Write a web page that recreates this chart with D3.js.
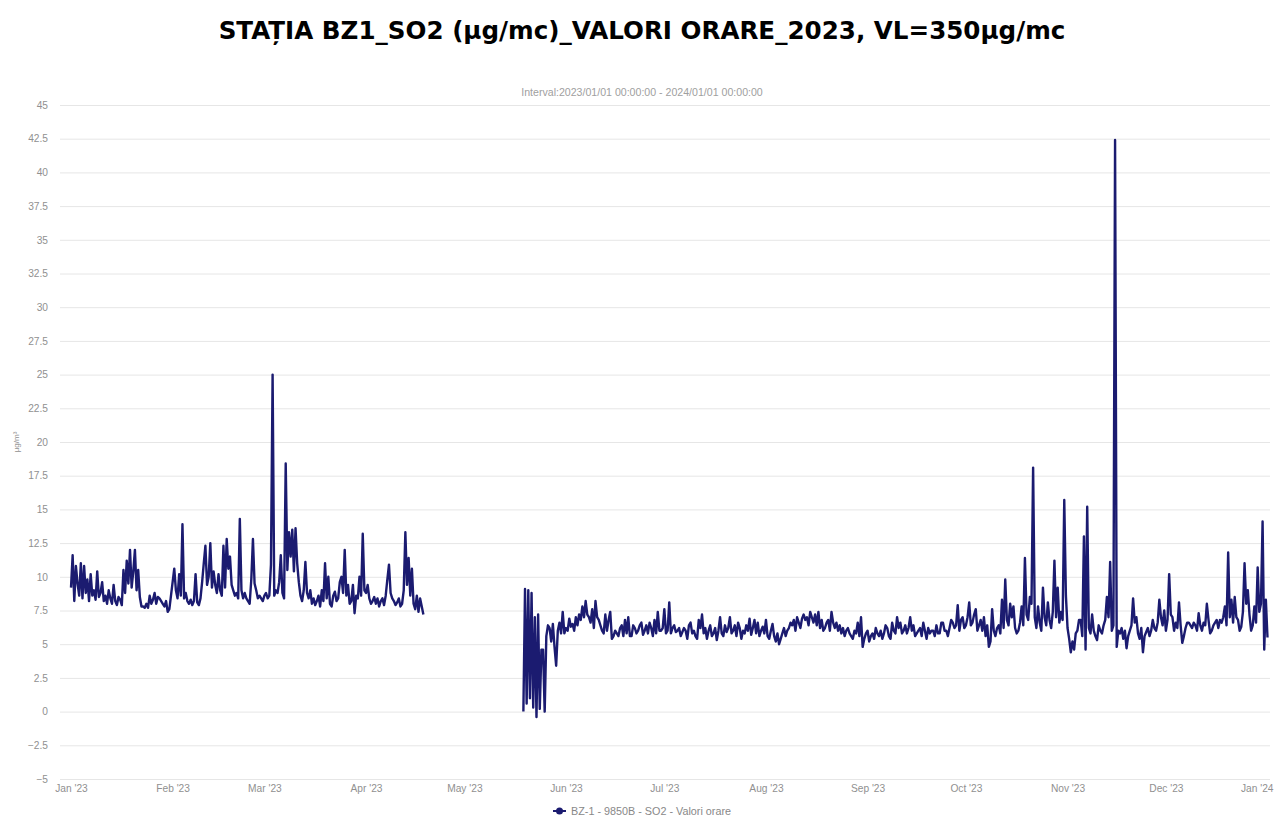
<!DOCTYPE html>
<html>
<head>
<meta charset="utf-8">
<script src="https://cdn.jsdelivr.net/npm/d3@7"></script>
<style>
  html, body { margin: 0; padding: 0; background: #fff; }
  svg { display: block; font-family: "Liberation Sans", Arial, sans-serif; }
</style>
</head>
<body>
<svg id="chart" width="1277" height="818"></svg>
<script>
const seg1Start = "2023-01-01T00:00:00";
const seg1 = [
  9.2,11.6, 8.2,10.8, 9.5,8.6, 11.0,8.4, 10.8,8.8, 9.8,8.2, 10.2,8.6, 9.0,8.3, 10.4,8.5, 8.8,9.6,
  8.2,8.6, 8.0,9.0, 8.4,8.0, 9.4,8.2, 7.9,8.5, 8.3,7.9, 10.5,8.8, 11.2,9.5, 12.0,9.2, 10.4,12.0,
  9.0,10.5, 8.5,7.8, 7.8,7.7, 8.0,7.7, 8.6,8.0, 8.3,8.8, 8.0,8.5, 8.4,8.2, 8.0,7.8, 8.2,7.4,
  7.6,8.6, 9.6,10.6, 9.0,8.4, 10.2,8.6, 13.9,8.4, 8.8,8.2, 8.0,8.3, 7.9,8.2, 10.2,8.1, 7.9,8.4,
  9.6,11.0, 12.3,9.4, 10.0,12.5, 9.2,10.4, 9.4,8.8, 10.2,9.0, 8.6,12.3, 9.2,12.8, 10.6,11.5, 9.4,9.0,
  8.6,8.8, 8.4,14.3, 9.0,8.4, 8.8,8.4, 8.2,8.0, 9.8,12.8, 9.5,9.0, 8.4,8.6, 8.4,8.2, 8.6,8.8,
  8.4,8.6, 10.9,25.0, 8.6,9.0, 8.8,9.6, 11.6,8.8, 8.4,18.4, 10.5,13.3, 11.5,13.5, 10.4,13.6, 11.0,9.6,
  8.6,8.2, 9.0,11.1, 8.8,8.4, 9.0,8.0, 8.4,7.9, 8.2,8.6, 7.8,9.0, 8.2,11.0, 8.4,10.0, 8.0,7.8,
  8.6,8.9, 8.2,8.4, 9.6,10.0, 8.8,12.0, 8.6,9.4, 8.0,8.2, 9.4,7.3, 8.6,8.4, 10.0,8.6, 13.2,9.0,
  8.8,9.4, 8.4,8.0, 8.2,8.5, 8.0,8.4, 7.8,8.2, 8.4,7.9, 8.6,9.8, 10.9,8.8, 8.4,8.2, 7.9,8.1,
  8.4,7.8, 8.0,9.0, 13.3,9.4, 11.4,8.6, 10.6,8.0, 7.6,8.6, 7.4,8.4, 7.8,7.2
];

const seg2Start = "2023-05-19T00:00:00";
const seg2 = [
  0.0,9.1, 0.6,9.0, 1.0,8.8, 0.3,7.0, -0.4,7.2, 0.2,4.6, 4.6,0.0, 5.6,6.4, 6.2,5.2, 6.5,4.8,
  3.4,6.0, 6.6,5.8, 7.4,5.8, 6.2,6.0, 6.9,6.3, 6.5,6.0, 7.0,6.4, 7.2,6.8, 7.8,7.0, 8.2,7.2,
  7.0,6.6, 7.6,6.2, 8.2,7.0, 6.8,6.4, 6.0,5.8, 7.2,6.0, 6.8,7.4, 5.4,5.6, 6.0,5.8, 5.6,6.2,
  6.4,5.6, 6.8,5.8, 7.0,5.6, 5.6,6.4, 6.2,5.8, 6.0,6.4, 6.6,5.7, 6.0,6.4, 5.8,6.6, 6.2,5.6,
  6.8,5.8, 7.4,6.0, 6.0,6.2, 7.6,5.8, 6.0,8.1, 5.8,6.2, 6.4,5.9, 6.0,6.2, 5.6,5.9, 6.2,6.0,
  5.4,6.4, 6.6,5.8, 6.0,5.6, 5.4,6.8, 6.2,7.2, 5.8,6.2, 5.4,6.0, 6.4,5.6, 5.8,6.2, 5.3,6.0,
  7.0,5.8, 5.6,6.4, 5.9,6.2, 7.0,5.8, 6.0,6.4, 5.6,6.6, 6.2,5.4, 6.0,5.8, 6.4,6.0, 6.9,5.7,
  6.2,6.8, 5.8,6.6, 5.6,6.0, 6.3,5.8, 6.8,5.6, 5.4,6.0, 6.5,5.6, 5.2,5.8, 5.0,5.4, 5.8,6.2,
  5.6,6.0, 6.2,6.6, 6.4,6.8, 6.0,7.0, 6.6,6.2, 6.9,7.2, 6.8,7.0, 6.4,7.4, 7.0,6.6, 7.2,6.4,
  7.4,6.2, 6.8,6.0, 6.2,6.6, 6.8,6.0, 7.4,6.6, 6.2,6.6, 6.0,6.4, 5.8,6.2, 5.6,6.0, 6.2,5.8,
  5.6,5.4, 6.0,5.8, 6.6,5.6, 7.0,4.8, 5.4,5.8, 6.0,5.2, 5.6,5.8, 5.4,6.2, 5.8,5.6, 6.0,5.4,
  5.8,6.4, 6.2,5.6, 5.4,6.6, 6.0,5.8, 7.0,6.2, 6.6,5.8, 6.0,6.4, 5.8,6.2, 7.0,6.0, 6.4,5.6,
  5.8,6.0, 6.2,5.6, 6.6,6.0, 5.4,6.2, 5.8,6.0, 6.0,5.6, 6.4,5.8, 5.8,6.6, 6.6,6.0, 6.0,5.6,
  6.2,6.8, 6.6,6.2, 6.4,7.9, 6.0,6.8, 7.0,6.2, 6.4,7.0, 8.1,6.4, 6.6,7.2, 7.6,6.0, 6.4,6.8,
  6.0,7.0, 5.6,6.4, 4.8,5.2,
  7.6,6.0, 5.6,6.2, 6.4,5.8, 8.3,6.2, 9.8,6.8, 6.4,8.0, 7.0,7.8, 6.2,5.8, 6.0,6.6, 7.8,6.4,
  11.4,7.2, 6.8,8.5, 8.0,18.1, 7.0,6.2, 7.8,6.6, 6.0,9.2, 7.0,6.4, 8.1,6.8, 6.2,7.4, 11.2,7.0,
  9.2,6.6, 7.4,6.8, 15.7,8.6, 6.2,5.4, 4.4,5.2, 4.6,5.8, 6.0,6.8, 6.8,5.6, 13.0,4.6, 15.2,6.2,
  5.8,7.2, 6.0,5.6, 5.3,6.4, 6.0,5.8, 6.4,6.8, 8.5,7.0, 11.1,6.0, 6.4,42.4, 4.8,6.0, 5.8,6.2,
  5.4,6.0, 4.7,5.6, 6.0,6.4, 8.4,6.6, 7.0,5.8, 5.4,6.2, 4.4,5.6, 5.9,6.2, 5.6,6.0, 6.8,6.2,
  6.0,6.6, 8.3,7.0, 6.4,7.5, 6.0,6.8, 10.2,7.2, 7.0,6.0, 6.6,6.2, 8.1,6.4, 5.1,5.6, 6.2,6.6,
  6.6,6.4, 6.2,6.6, 6.4,6.0, 7.3,6.4, 6.0,6.6, 6.4,8.0, 6.8,5.8, 6.0,6.4, 6.6,6.8, 6.2,6.8,
  6.6,7.0, 7.8,6.4, 11.8,7.0, 8.3,6.6, 8.5,7.0, 6.8,6.0, 6.3,7.4, 11.0,8.0, 9.0,7.2, 6.0,6.4,
  7.8,6.6, 10.7,7.4, 8.0,14.1, 4.6,8.3, 5.5
];
const stepHours = 12;

const yTickValues = [-5, -2.5, 0, 2.5, 5, 7.5, 10, 12.5, 15, 17.5, 20, 22.5, 25, 27.5, 30, 32.5, 35, 37.5, 40, 42.5, 45];
const monthTicks = ["2023-01-01", "2023-02-01", "2023-03-01", "2023-04-01", "2023-05-01", "2023-06-01",
  "2023-07-01", "2023-08-01", "2023-09-01", "2023-10-01", "2023-11-01", "2023-12-01", "2024-01-01"];

const titleText = "STAȚIA BZ1_SO2 (µg/mc)_VALORI ORARE_2023, VL=350µg/mc";
const subtitleText = "Interval:2023/01/01 00:00:00 - 2024/01/01 00:00:00";
const seriesName = "BZ-1 - 9850B - SO2 - Valori orare";

const W = 1277, H = 818;
const plotLeft = 60, plotRight = 1270, plotTop = 105, plotBottom = 779;
const lineColor = "#1b1b70";
const labelColor = "#909090";

const parse = d3.isoParse;
const toPoints = (start, vals) => vals.map((v, i) => ({
  t: d3.timeHour.offset(parse(start), i * stepHours), v
}));
const series = [toPoints(seg1Start, seg1), toPoints(seg2Start, seg2)];

const svg = d3.select("#chart");
svg.append("rect").attr("width", W).attr("height", H).attr("fill", "#fff");

const x = d3.scaleTime()
  .domain([parse("2023-01-01T00:00:00"), parse("2024-01-01T00:00:00")])
  .range([71, 1267.5]);
const y = d3.scaleLinear().domain([-5, 45]).range([plotBottom, plotTop]);

// title + subtitle
svg.append("text")
  .attr("x", 642).attr("y", 39)
  .attr("text-anchor", "middle")
  .style("font-family", "'DejaVu Sans', sans-serif")
  .style("font-weight", "bold")
  .style("font-size", "24.6px")
  .attr("fill", "#000")
  .text(titleText);

svg.append("text")
  .attr("x", 642).attr("y", 96)
  .attr("text-anchor", "middle")
  .style("font-size", "10.6px")
  .attr("fill", "#a0a0a0")
  .text(subtitleText);

// y axis with grid
const yAxis = svg.append("g")
  .attr("transform", `translate(${plotLeft},0)`)
  .call(d3.axisLeft(y)
    .tickValues(yTickValues)
    .tickSize(-(plotRight - plotLeft))
    .tickPadding(12)
    .tickFormat(d3.format("")));
yAxis.select(".domain").remove();
yAxis.selectAll(".tick line").attr("stroke", "#e6e6e6");
yAxis.selectAll(".tick text")
  .attr("fill", labelColor)
  .style("font-size", "10.2px")
  .style("font-family", "'Liberation Sans', Arial, sans-serif");

svg.append("text")
  .attr("transform", `translate(19,${(plotTop + plotBottom) / 2}) rotate(-90)`)
  .attr("text-anchor", "middle")
  .style("font-size", "8px")
  .attr("fill", labelColor)
  .text("µg/m³");

// x axis
const xAxis = svg.append("g")
  .attr("transform", `translate(0,${plotBottom})`)
  .call(d3.axisBottom(x)
    .tickValues(monthTicks.map(parse))
    .tickSize(0)
    .tickPadding(6)
    .tickFormat(d3.timeFormat("%b '%y")));
xAxis.select(".domain").remove();
xAxis.selectAll(".tick text")
  .attr("fill", labelColor)
  .style("font-size", "10.2px")
  .style("font-family", "'Liberation Sans', Arial, sans-serif");
// keep the last label inside the frame
xAxis.selectAll(".tick").each(function (d) {
  const t = d3.select(this).select("text");
  const w = t.node().getComputedTextLength();
  const cx = x(d);
  if (cx + w / 2 > W - 4) t.attr("x", (W - 4) - w / 2 - cx);
});

// line
const line = d3.line().x(d => x(d.t)).y(d => y(d.v));
svg.append("g")
  .selectAll("path")
  .data(series)
  .join("path")
  .attr("d", line)
  .attr("fill", "none")
  .attr("stroke", lineColor)
  .attr("stroke-width", 2.4)
  .attr("stroke-linejoin", "round");

// legend
const lg = svg.append("g").attr("transform", "translate(553,811)");
lg.append("line").attr("x1", 0).attr("x2", 13).attr("stroke", lineColor).attr("stroke-width", 2);
lg.append("circle").attr("cx", 6.5).attr("r", 3.5).attr("fill", lineColor);
lg.append("text")
  .attr("x", 18).attr("y", 3.5)
  .style("font-size", "10.8px")
  .attr("fill", "#888")
  .text(seriesName);
</script>
</body>
</html>
